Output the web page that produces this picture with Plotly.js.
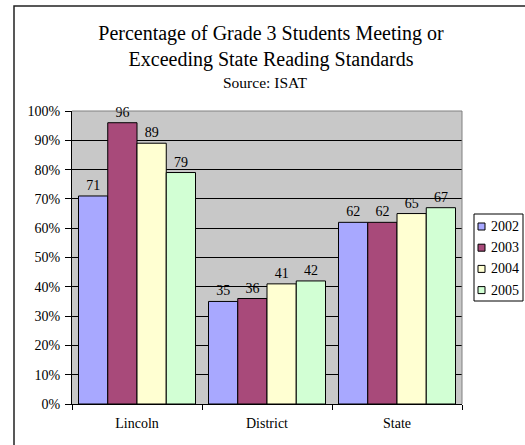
<!DOCTYPE html>
<html>
<head>
<meta charset="utf-8">
<script src="https://cdn.plot.ly/plotly-3.0.1.min.js"></script>
<style>
  html, body { margin: 0; padding: 0; background: #fff; }
  #chart { width: 525px; height: 445px; }
</style>
</head>
<body>
<div id="chart"></div>
<script>
// ---- data ----
var categories = ["Lincoln", "District", "State"];
var seriesNames = ["2002", "2003", "2004", "2005"];
var values2002 = [71, 35, 62];
var values2003 = [96, 36, 62];
var values2004 = [89, 41, 65];
var values2005 = [79, 42, 67];
var yTickValues = [0, 10, 20, 30, 40, 50, 60, 70, 80, 90, 100];

// ---- styles ----
var seriesValues = [values2002, values2003, values2004, values2005];
var colors = ["#A8A8FF", "#A84A7A", "#FFFFD2", "#D2FFD4"];
var FONT = "'Liberation Serif', 'Times New Roman', Times, serif";

var W = 525, H = 445;
var L = 72, R = 63, T = 111, B = 41;
var plotW = W - L - R, plotH = H - T - B;
function px2x(p) { return (p - L) / plotW; }
function px2y(p) { return (H - B - p) / plotH; }

var traces = seriesNames.map(function (name, i) {
  return {
    type: "bar",
    name: name,
    x: categories,
    y: seriesValues[i],
    marker: { color: colors[i], line: { color: "#000", width: 1 } },
    text: seriesValues[i].map(String),
    textposition: "outside",
    textfont: { family: FONT, size: 14, color: "#000" },
    cliponaxis: false,
    showlegend: false,
    hoverinfo: "x+y+name"
  };
});

var shapes = [];
var annotations = [];

// plot-area top and right border (grey)
shapes.push({
  type: "path", xref: "paper", yref: "paper",
  path: "M 0,1 L 1,1 L 1,0",
  line: { color: "#808080", width: 1 }, layer: "above"
});

// outer chart frame (left and top visible)
shapes.push({
  type: "path", xref: "paper", yref: "paper",
  path: "M " + px2x(14) + "," + px2y(460) + " L " + px2x(14) + "," + px2y(6) + " L " + px2x(540) + "," + px2y(6),
  line: { color: "#222", width: 1.5 }, layer: "above"
});

// legend box
var legL = 474, legR = 523, legT = 214, legB = 301;
shapes.push({
  type: "rect", xref: "paper", yref: "paper",
  x0: px2x(legL), x1: px2x(legR), y0: px2y(legB), y1: px2y(legT),
  line: { color: "#000", width: 1 }, fillcolor: "#fff", layer: "above"
});
var rowC0 = 226.5, rowStep = 21.2, sq = 7;
seriesNames.forEach(function (name, i) {
  var cy = rowC0 + i * rowStep;
  shapes.push({
    type: "rect", xref: "paper", yref: "paper",
    x0: px2x(478), x1: px2x(478 + sq), y0: px2y(cy + sq / 2), y1: px2y(cy - sq / 2),
    line: { color: "#000", width: 1 }, fillcolor: colors[i], layer: "above"
  });
  annotations.push({
    xref: "paper", yref: "paper", x: px2x(489), y: px2y(cy),
    xanchor: "left", yanchor: "middle", showarrow: false,
    text: name, font: { family: FONT, size: 14, color: "#000" }
  });
});

// subtitle
annotations.push({
  xref: "paper", yref: "paper", x: px2x(264.5), y: px2y(82),
  xanchor: "center", yanchor: "middle", showarrow: false,
  text: "Source: ISAT", font: { family: FONT, size: 15.5, color: "#000" }
});

var layout = {
  width: W, height: H,
  margin: { l: L, r: R, t: T, b: B, pad: 0, autoexpand: false },
  paper_bgcolor: "#fff",
  plot_bgcolor: "#C8C8C8",
  font: { family: FONT, size: 14, color: "#000" },
  title: {
    text: "Percentage of Grade 3 Students Meeting or<br>Exceeding State Reading Standards",
    font: { family: FONT, size: 20, color: "#000" },
    x: 271 / W, xref: "container", xanchor: "center",
    y: 1 - 40 / H, yref: "container", yanchor: "top"
  },
  barmode: "group",
  bargap: 0.1,
  bargroupgap: 0,
  showlegend: false,
  xaxis: {
    type: "category",
    showline: true, linecolor: "#000", linewidth: 1,
    ticks: "outside", tickson: "boundaries", ticklen: 5, tickcolor: "#000", tickwidth: 1,
    ticklabelstandoff: 6,
    showgrid: false,
    tickfont: { family: FONT, size: 14, color: "#000" },
    fixedrange: true
  },
  yaxis: {
    range: [0, 100],
    tickvals: yTickValues,
    ticktext: yTickValues.map(function (v) { return v + "%"; }),
    showline: true, linecolor: "#000", linewidth: 1,
    ticks: "outside", ticklen: 6, tickcolor: "#000", tickwidth: 1,
    ticklabelstandoff: 2,
    showgrid: true, gridcolor: "#000", gridwidth: 1,
    zeroline: false,
    tickfont: { family: FONT, size: 14, color: "#000" },
    fixedrange: true
  },
  shapes: shapes,
  annotations: annotations
};

Plotly.newPlot("chart", traces, layout, { displayModeBar: false, staticPlot: true });
</script>
</body>
</html>
